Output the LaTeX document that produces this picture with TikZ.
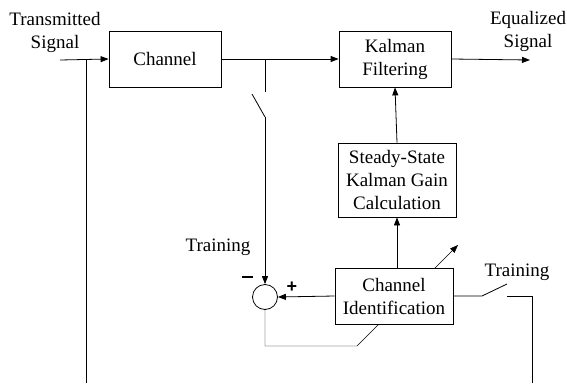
\documentclass[tikz,border=0pt]{standalone}
\usepackage{fontspec}
\setmainfont{Liberation Serif}
\newfontfamily\signfont{Liberation Sans}
\usetikzlibrary{arrows.meta,backgrounds}
\tikzstyle{box}=[rectangle, draw=black, fill=white, inner sep=0pt, align=center, anchor=center]
\tikzstyle{annot}=[align=center, inner sep=0pt]
\tikzstyle{sig}=[-{Triangle[length=8pt,width=6pt]}]
\tikzstyle{sumpt}=[circle, draw=black, fill=white, minimum size=25pt, inner sep=0pt]

\begin{document}
\begin{tikzpicture}[x=1pt, y=-1pt, font=\rmfamily\fontsize{19}{23}\selectfont, line width=0.8pt]
	\useasboundingbox (0,0) rectangle (567,383);

	% forward path
	\node[box, minimum width=112pt, minimum height=56pt](channel) at (165,59){Channel};
	\node[box, minimum width=112pt, minimum height=56pt](kalman) at (395,59){Kalman\\Filtering};
	\node[box, minimum width=118pt, minimum height=74pt](gain) at (397,180){Steady-State\\Kalman Gain\\Calculation};
	\node[sumpt](sum) at (265,297){};

	\coordinate (in) at (60,60);
	\coordinate (tapin) at (86,60);
	\coordinate (tapout) at (265,60);
	\coordinate (out) at (530,60);

	\node[annot] (txlabel) at (55,32) {Transmitted\\Signal};
	\node[annot] (eqlabel) at (528,31) {Equalized\\Signal};

	\draw[sig] (in) -- (channel.west);
	\draw[sig] (channel.east) -- (kalman.west);
	\draw[sig] (kalman.east) -- (out);
	\draw[sig] (gain.north) -- (kalman.south);
	\draw (tapin) -- (86,383);

	% training switch on the received signal
	\draw (tapout) -- (265,92);
	\draw (252,94) -- (265,117);
	\draw[sig] (265,117) -- (sum.north);
	\node[annot] (trainleft) at (218,247) {Training};
	\node[annot] (minus) at (247,277) {\rule{11pt}{1.8pt}};
	\node[annot, font=\signfont\bfseries\fontsize{18}{18}\selectfont] (plus) at (292,287) {+};

	% error feedback, adjusts the identification
	\begin{scope}[on background layer]
		\draw[sig] (sum.south) -- (265,346) -- (357,346) -- (458,245);
	\end{scope}
	\node[box, minimum width=118pt, minimum height=56pt](chid) at (394,296){Channel\\Identification};
	\draw[sig] (chid.west) -- (sum.east);
	\draw[sig] (chid.north -| gain.south) -- (gain.south);

	% training switch on the reference side
	\draw (chid.east) -- (482,296) -- (507,284);
	\draw (507,296) -- (532,296) -- (532,383);
	\node[annot] (trainright) at (517,272) {Training};

\end{tikzpicture}
\end{document}
